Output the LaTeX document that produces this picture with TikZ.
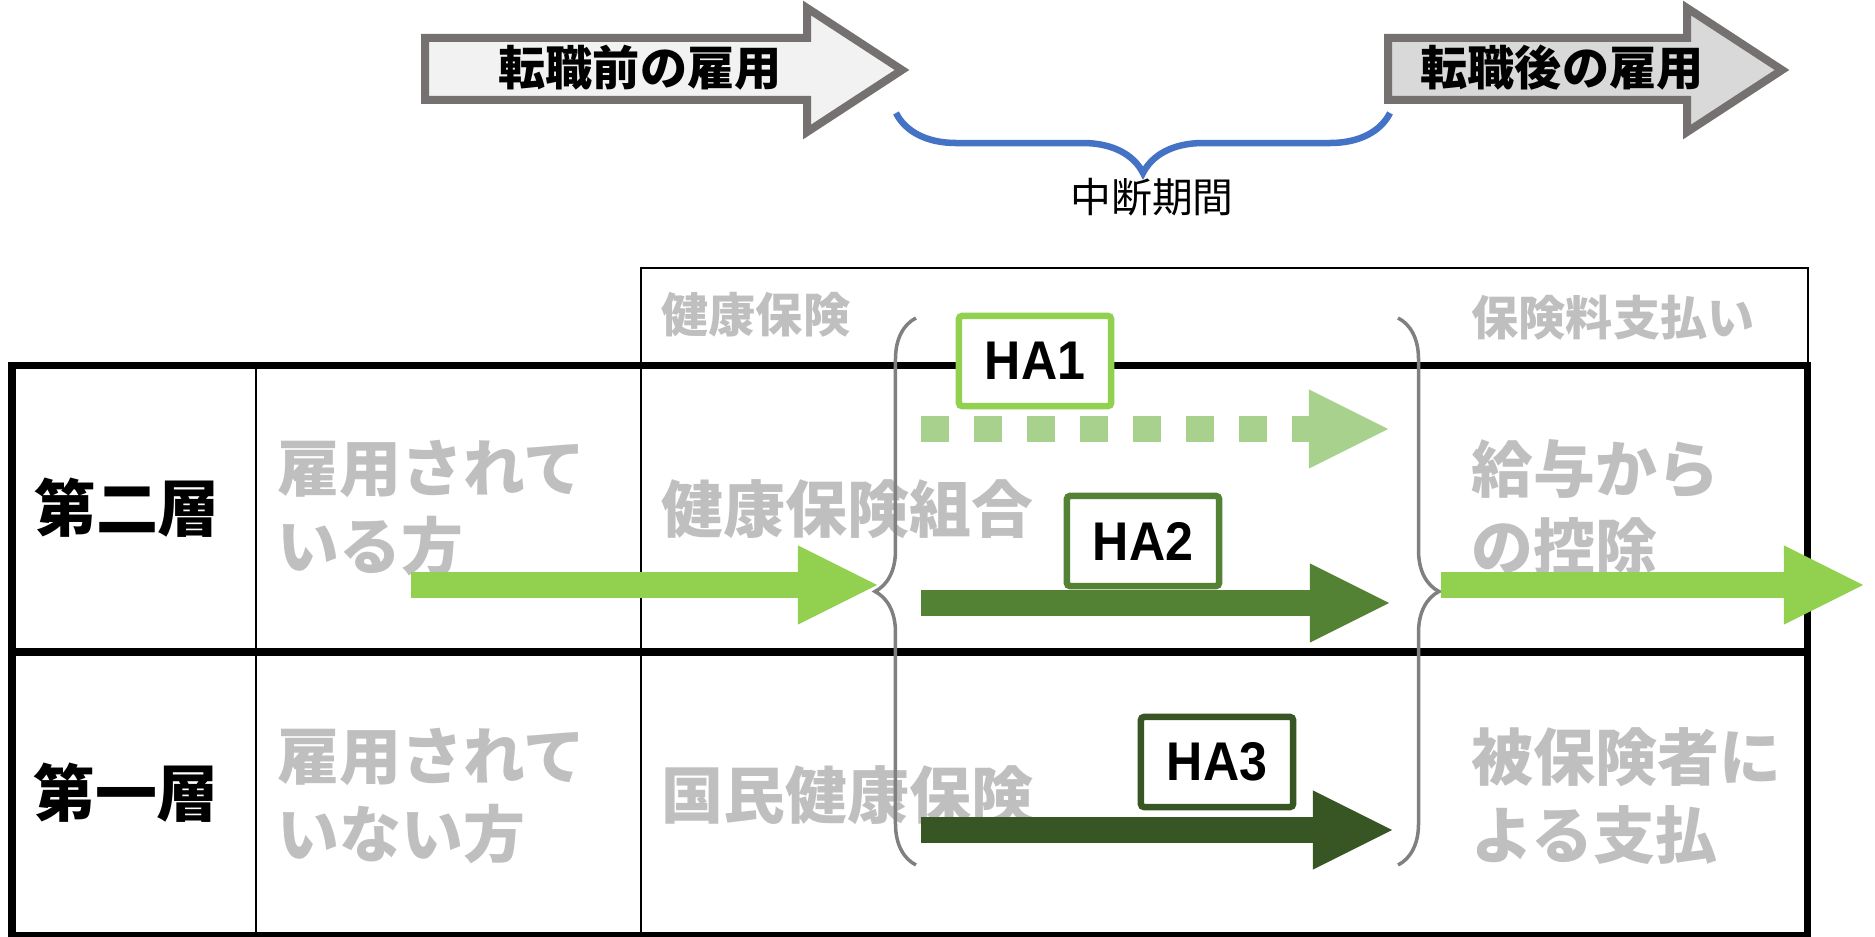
\documentclass[tikz,border=0pt]{standalone}
\usepackage{xcolor}
\usepackage{fontspec}
\usepackage{tikz}
\usetikzlibrary{arrows.meta,decorations.pathreplacing}

\newfontfamily\jp{Noto Sans CJK JP}
\newfontfamily\hafont{Liberation Sans}[FakeStretch=0.92]

\definecolor{shiftline}{HTML}{767171}
\definecolor{shiftbefore}{HTML}{F2F2F2}
\definecolor{shiftafter}{HTML}{D9D9D9}
\definecolor{gapblue}{HTML}{4472C4}
\definecolor{cellgray}{HTML}{BFBFBF}
\definecolor{bracegray}{HTML}{808080}
\definecolor{greenA}{HTML}{92D050}
\definecolor{greenB}{HTML}{A9D18E}
\definecolor{greenC}{HTML}{548235}
\definecolor{greenD}{HTML}{375623}

\begin{document}
\begin{tikzpicture}[
    x=0.01cm, y=-0.01cm,
    shiftarrow/.style={draw=shiftline, line width=0.08cm, line join=miter},
    shifttext/.style={font=\jp\bfseries\fontsize{13.4pt}{16pt}\selectfont, inner sep=0pt},
    gaptext/.style={font=\jp\fontsize{11.6pt}{14pt}\selectfont, inner sep=0pt},
    rowhead/.style={font=\jp\bfseries\fontsize{17.6pt}{22.2pt}\selectfont, inner sep=0pt},
    celltext/.style={font=\jp\bfseries\fontsize{17.6pt}{22.2pt}\selectfont, text=cellgray, anchor=west, inner sep=0pt, align=left},
    headtext/.style={font=\jp\bfseries\fontsize{13.4pt}{16pt}\selectfont, text=cellgray, anchor=west, inner sep=0pt},
    habox/.style={rectangle, fill=white, line width=0.065cm, rounded corners=0.03cm, minimum width=1.52cm, minimum height=0.9cm, inner sep=0pt, font=\hafont\bfseries\fontsize{15.5pt}{15.5pt}\selectfont},
    fatarrow/.style={line width=0.26cm, -{Triangle[length=0.79cm, width=0.79cm, line width=0pt]}},
    gapbrace/.style={decorate, decoration={brace, amplitude=#1}}
]
	\useasboundingbox (0,0) rectangle (1875,937);

	\draw[shiftarrow, fill=shiftbefore] (425,38) -- (807,38) -- (807,8) -- (902,70) -- (807,132) -- (807,100) -- (425,100) -- cycle;
	\draw[shiftarrow, fill=shiftafter] (1388,38) -- (1687,38) -- (1687,8) -- (1782,70) -- (1687,132) -- (1687,100) -- (1388,100) -- cycle;
	\node[shifttext] (before) at (640,68) {転職前の雇用};
	\node[shifttext] (after) at (1562,68) {転職後の雇用};

	\draw[gapblue, line width=0.065cm, gapbrace=0.6cm] (1390,113) -- (896,113);
	\node[gaptext] (gap) at (1152,197) {中断期間};

	\draw[line width=0.025cm] (641,366) -- (641,268) -- (1808,268) -- (1808,366);
	\draw[line width=0.025cm] (256,366) -- (256,936);
	\draw[line width=0.025cm] (641,366) -- (641,936);
	\draw[line width=0.07cm] (12,366) rectangle (1807,936);
	\draw[line width=0.07cm] (12,652) -- (1807,652);

	\node[headtext] (hdrins) at (661,315) {健康保険};
	\node[headtext] (hdrpay) at (1471,318) {保険料支払い};

	\node[rowhead] (layer2) at (127,508) {第二層};
	\node[rowhead] (layer1) at (126,793) {第一層};
	\node[celltext] (employed) at (277,508) {雇用されて\\いる方};
	\node[celltext] (unemployed) at (277,796) {雇用されて\\いない方};
	\node[celltext] (union) at (661,509) {健康保険組合};
	\node[celltext] (national) at (661,795) {国民健康保険};
	\node[celltext] (salary) at (1471,508) {給与から\\の控除};
	\node[celltext] (self) at (1471,796) {被保険者に\\よる支払};

	\draw[bracegray, line width=0.035cm, gapbrace=0.41cm] (916,865) -- (916,318);
	\draw[bracegray, line width=0.035cm, gapbrace=0.41cm] (1398,318) -- (1398,865);

	\coordinate (inStart) at (411,585);
	\coordinate (inEnd) at (877,585);
	\coordinate (outStart) at (1441,585);
	\coordinate (outEnd) at (1863,585);
	\coordinate (ha1Start) at (921,429);
	\coordinate (ha1End) at (1388,429);
	\coordinate (ha2Start) at (921,603);
	\coordinate (ha2End) at (1389,603);
	\coordinate (ha3Start) at (921,830);
	\coordinate (ha3End) at (1392,830);

	\draw[fatarrow, greenA] (inStart) -- (inEnd);
	\draw[fatarrow, greenA] (outStart) -- (outEnd);
	\draw[fatarrow, greenB, dash pattern=on 0.28cm off 0.25cm] (ha1Start) -- (ha1End);
	\draw[fatarrow, greenC] (ha2Start) -- (ha2End);
	\draw[fatarrow, greenD] (ha3Start) -- (ha3End);

	\node[habox, draw=greenA] (ha1) at (1035,361) {HA1};
	\node[habox, draw=greenC] (ha2) at (1143,541) {HA2};
	\node[habox, draw=greenD] (ha3) at (1217,762) {HA3};
\end{tikzpicture}
\end{document}
